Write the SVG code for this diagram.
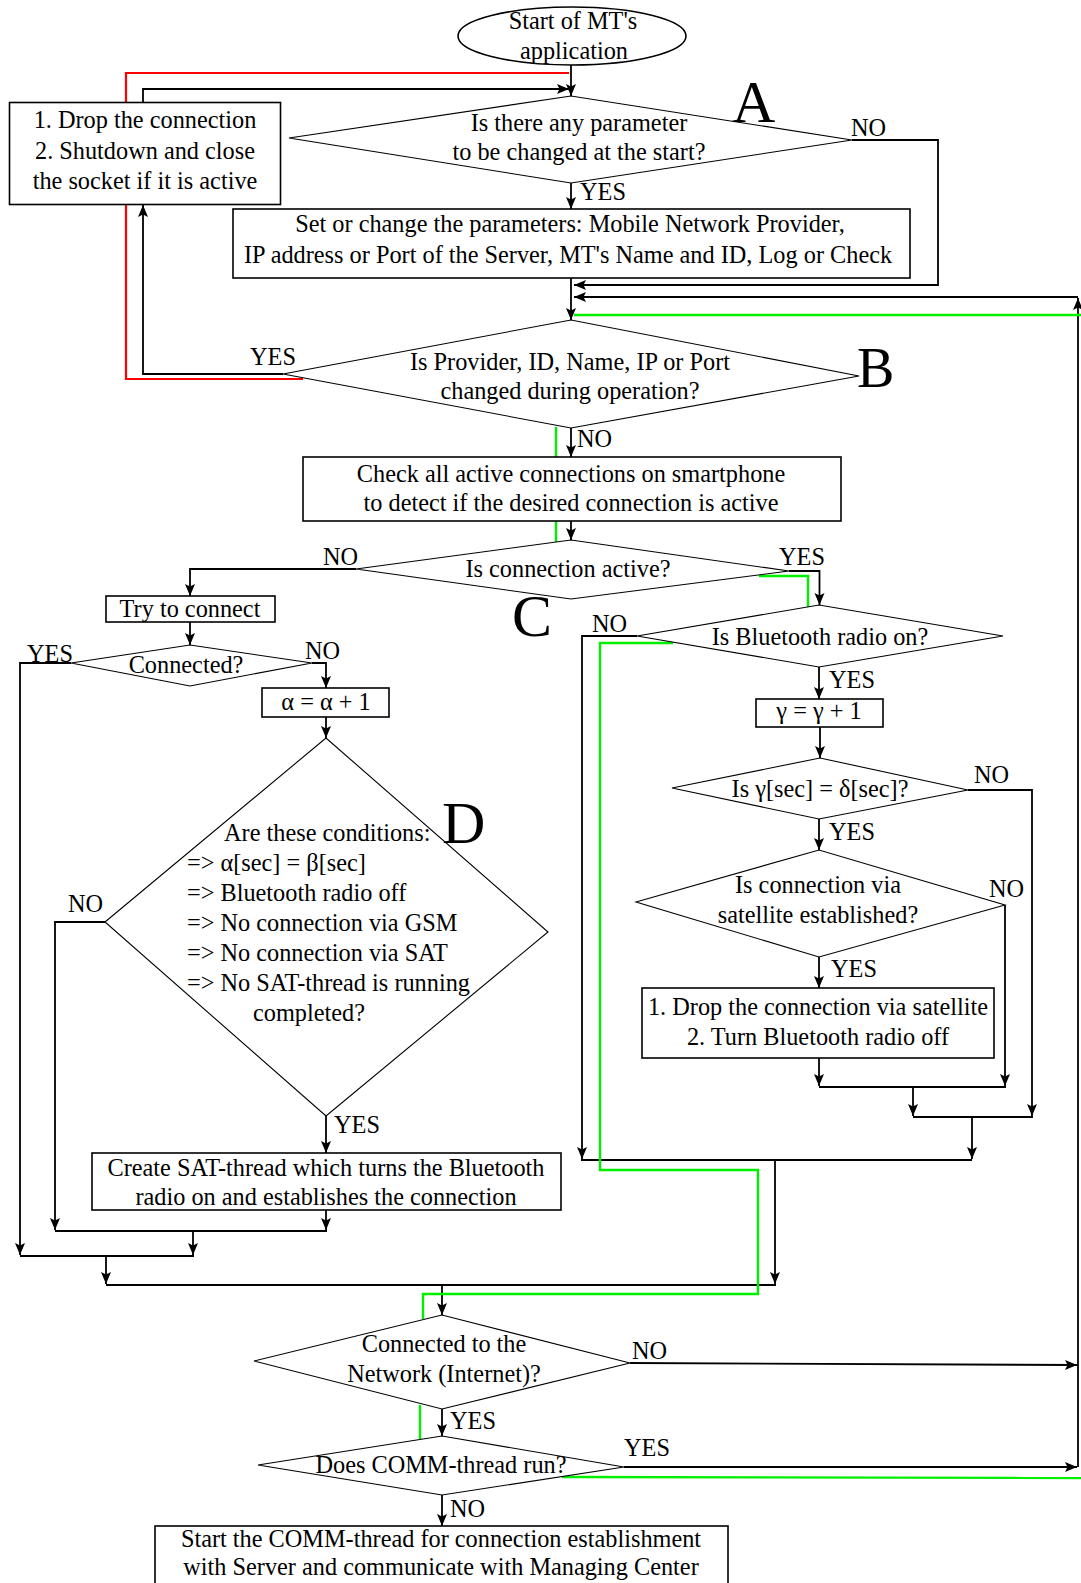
<svg xmlns="http://www.w3.org/2000/svg" width="1081" height="1583" viewBox="0 0 1081 1583">
<defs>
<marker id="ah" markerUnits="userSpaceOnUse" markerWidth="13" markerHeight="11" refX="12" refY="5" orient="auto">
<path d="M0,0 L12,5 L0,10 L2.5,5 z" fill="#000"/>
</marker>
</defs>
<style>
text{font-family:"Liberation Serif","Times New Roman",serif;font-size:24.3px;fill:#000}
.c{text-anchor:middle}
.big{font-size:60px}
.shape{fill:#fff;stroke:#000;stroke-width:1.6}
.dia{fill:#fff;stroke:#000;stroke-width:1.1}
.ln{fill:none;stroke:#000;stroke-width:1.8}
.ar{fill:none;stroke:#000;stroke-width:1.8;marker-end:url(#ah)}
.red{fill:none;stroke:#f00;stroke-width:2.2}
.grn{fill:none;stroke:#0e0;stroke-width:2.4}
</style>
<rect width="1081" height="1583" fill="#fff"/>

<g id="connectors">
<path class="red" d="M303,379 L126,379 L126,73 L569,73"/>
<path class="ar" d="M571,65 L571,96"/>
<path class="ar" d="M143,102 L143,89 L569,89"/>
<path class="ar" d="M571,183 L571,209"/>
<path class="ar" d="M852,140 L938,140 L938,285 L574,285"/>
<path class="ar" d="M571,278 L571,320"/>
<path class="ar" d="M1078,1467 L1078,298"/>
<path class="ar" d="M1078,297 L574,297"/>
<path class="ar" d="M283,374 L143,374 L143,205"/>
<path class="ar" d="M571,428 L571,457"/>
<path class="ar" d="M571,521 L571,540"/>
<path class="ar" d="M356,569 L190,569 L190,596"/>
<path class="ar" d="M789,571 L819.5,571 L819.5,605"/>
<path class="ar" d="M190,622 L190,645"/>
<path class="ar" d="M71,663 L20,663 L20,1255"/>
<path class="ar" d="M312,663 L326,663 L326,688"/>
<path class="ar" d="M326,717 L326,738"/>
<path class="ar" d="M105,922 L55,922 L55,1230"/>
<path class="ar" d="M326,1116 L326,1153"/>
<path class="ar" d="M326,1210 L326,1230"/>
<path class="ln" d="M55,1231 L327,1231"/>
<path class="ar" d="M193,1231 L193,1255"/>
<path class="ln" d="M20,1256 L194,1256"/>
<path class="ar" d="M106,1256 L106,1284"/>
<path class="ln" d="M106,1285 L776,1285"/>
<path class="ar" d="M775,1160 L775,1284"/>
<path class="ln" d="M581,1160 L972,1160"/>
<path class="ar" d="M637,636 L582,636 L582,1159"/>
<path class="ar" d="M819,667 L819,699"/>
<path class="ar" d="M820,727 L820,758"/>
<path class="ar" d="M968,790 L1032,790 L1032,1116"/>
<path class="ar" d="M819,819 L819,850"/>
<path class="ar" d="M1005,905 L1005,1086"/>
<path class="ar" d="M819,957 L819,988"/>
<path class="ar" d="M819,1058 L819,1086"/>
<path class="ln" d="M819,1087 L1006,1087"/>
<path class="ar" d="M913,1087 L913,1116"/>
<path class="ln" d="M913,1117 L1033,1117"/>
<path class="ar" d="M972,1117 L972,1159"/>
<path class="ar" d="M442,1285 L442,1315"/>
<path class="ar" d="M630,1363 L1077,1365"/>
<path class="ar" d="M442,1409 L442,1436"/>
<path class="ar" d="M624,1467 L1077,1467"/>
<path class="ar" d="M442,1495 L442,1526"/>
<path class="grn" d="M574,315 L1081,315"/>
<path class="grn" d="M556,427 L556,457"/>
<path class="grn" d="M556,521 L556,542"/>
<path class="grn" d="M759,576 L808,576 L808,607"/>
<path class="grn" d="M673,643 L600,643 L600,1170 L758,1170 L758,1294 L423,1294 L423,1319"/>
<path class="grn" d="M420,1405 L420,1439"/>
<path class="grn" d="M562,1477 L1081,1478"/>
<text x="851" y="136">NO</text>
<text x="580" y="200">YES</text>
<text x="250" y="365">YES</text>
<text x="577" y="447">NO</text>
<text x="323" y="565">NO</text>
<text x="779" y="565">YES</text>
<text x="27" y="662">YES</text>
<text x="305" y="659">NO</text>
<text x="68" y="912">NO</text>
<text x="334" y="1133">YES</text>
<text x="592" y="632">NO</text>
<text x="829" y="688">YES</text>
<text x="974" y="783">NO</text>
<text x="829" y="840">YES</text>
<text x="989" y="897">NO</text>
<text x="831" y="977">YES</text>
<text x="632" y="1359">NO</text>
<text x="450" y="1429">YES</text>
<text x="624" y="1456">YES</text>
<text x="450" y="1517">NO</text>
</g>

<g id="start">
<ellipse class="shape" cx="572" cy="36" rx="114" ry="29"/>
<text class="c" x="573" y="29">Start of MT's</text>
<text class="c" x="574" y="59">application</text>
</g>

<g id="drop-socket">
<rect class="shape" x="9.5" y="102.5" width="271" height="102"/>
<text class="c" x="145" y="128">1. Drop the connection</text>
<text class="c" x="145" y="159">2. Shutdown and close</text>
<text class="c" x="145" y="189">the socket if it is active</text>
</g>

<g id="dec-A">
<polygon class="dia" points="289,138 571,96 852,140 571,183"/>
<text class="c" x="579" y="131">Is there any parameter</text>
<text class="c" x="579" y="160">to be changed at the start?</text>
<text class="big" x="732" y="122">A</text>
</g>

<g id="set-params">
<rect class="shape" x="233" y="209" width="677" height="69"/>
<text class="c" x="570" y="232">Set or change the parameters: Mobile Network Provider,</text>
<text class="c" x="568" y="263">IP address or Port of the Server, MT's Name and ID, Log or Check</text>
</g>

<g id="dec-B">
<polygon class="dia" points="283,374 571,320 859,376 571,428"/>
<text class="c" x="570" y="370">Is Provider, ID, Name, IP or Port</text>
<text class="c" x="570" y="399">changed during operation?</text>
<text class="big" x="857" y="387" style="font-size:56px">B</text>
</g>

<g id="check-conn">
<rect class="shape" x="303" y="457" width="538" height="64"/>
<text class="c" x="571" y="482">Check all active connections on smartphone</text>
<text class="c" x="571" y="511">to detect if the desired connection is active</text>
</g>

<g id="dec-C">
<polygon class="dia" points="356,569 571,540 789,571 571,599"/>
<text class="c" x="568" y="577">Is connection active?</text>
<text class="big" x="512" y="636">C</text>
</g>

<g id="try-connect">
<rect class="shape" x="106" y="596" width="169" height="26"/>
<text class="c" x="190" y="617">Try to connect</text>
</g>

<g id="dec-connected">
<polygon class="dia" points="71,663 190,645 312,663 190,686"/>
<text class="c" x="186" y="673">Connected?</text>
</g>

<g id="alpha-inc">
<rect class="shape" x="262" y="688" width="127" height="29"/>
<text class="c" x="326" y="710">α = α + 1</text>
</g>

<g id="dec-D">
<polygon class="dia" points="105,922 326,738 548,932 326,1116"/>
<text x="224" y="841">Are these conditions:</text>
<text x="187" y="871">=&gt; α[sec] = β[sec]</text>
<text x="187" y="901">=&gt; Bluetooth radio off</text>
<text x="187" y="931">=&gt; No connection via GSM</text>
<text x="187" y="961">=&gt; No connection via SAT</text>
<text x="187" y="991">=&gt; No SAT-thread is running</text>
<text x="253" y="1021">completed?</text>
<text class="big" x="442" y="843">D</text>
</g>

<g id="create-sat">
<rect class="shape" x="92" y="1153" width="469" height="57"/>
<text class="c" x="326" y="1176">Create SAT-thread which turns the Bluetooth</text>
<text class="c" x="326" y="1205">radio on and establishes the connection</text>
</g>

<g id="dec-bt">
<polygon class="dia" points="637,636 819,605 1003,636 819,667"/>
<text class="c" x="820" y="645">Is Bluetooth radio on?</text>
</g>

<g id="gamma-inc">
<rect class="shape" x="756" y="699" width="127" height="28"/>
<text class="c" x="819" y="719">γ = γ + 1</text>
</g>

<g id="dec-gamma">
<polygon class="dia" points="672,788 820,758 968,790 819,819"/>
<text class="c" x="820" y="797">Is γ[sec] = δ[sec]?</text>
</g>

<g id="dec-sat">
<polygon class="dia" points="636,902 819,850 1005,905 819,957"/>
<text class="c" x="818" y="893">Is connection via</text>
<text class="c" x="818" y="923">satellite established?</text>
</g>

<g id="drop-sat">
<rect class="shape" x="642" y="988" width="352" height="70"/>
<text class="c" x="818" y="1015">1. Drop the connection via satellite</text>
<text class="c" x="818" y="1045">2. Turn Bluetooth radio off</text>
</g>

<g id="dec-net">
<polygon class="dia" points="254,1361 442,1315 630,1363 442,1409"/>
<text class="c" x="444" y="1352">Connected to the</text>
<text class="c" x="444" y="1382">Network (Internet)?</text>
</g>

<g id="dec-comm">
<polygon class="dia" points="258,1465 442,1436 624,1467 442,1495"/>
<text class="c" x="441" y="1473">Does COMM-thread run?</text>
</g>

<g id="start-comm">
<rect class="shape" x="155" y="1526" width="573" height="80"/>
<text class="c" x="441" y="1547">Start the COMM-thread for connection establishment</text>
<text class="c" x="441" y="1575">with Server and communicate with Managing Center</text>
</g>
</svg>
